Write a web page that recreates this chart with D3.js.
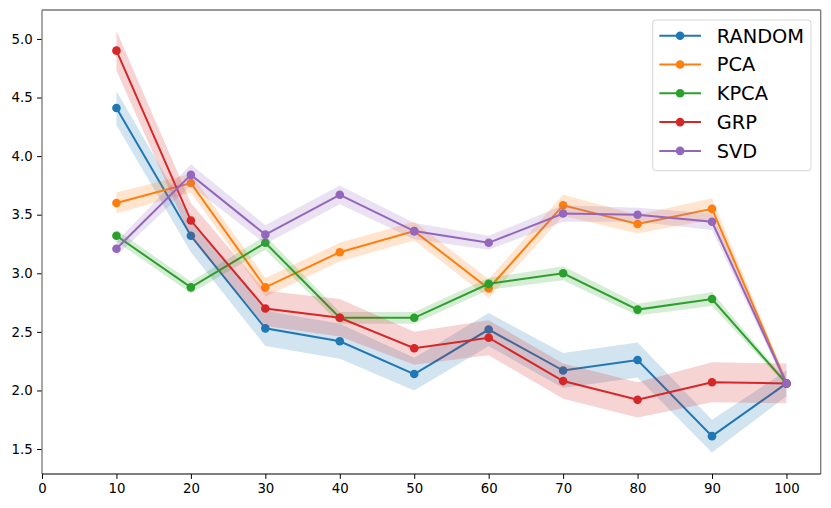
<!DOCTYPE html>
<html>
<head>
<meta charset="utf-8">
<script src="https://cdn.jsdelivr.net/npm/d3@7"></script>
<style>
  body { margin: 0; background: #fff; }
  svg text { font-family: "DejaVu Sans", sans-serif; }
</style>
</head>
<body>
<div id="chart"></div>
<script>
const steps = [10, 20, 30, 40, 50, 60, 70, 80, 90, 100];
const xTicks = [0, 10, 20, 30, 40, 50, 60, 70, 80, 90, 100];
const yTicks = [1.5, 2.0, 2.5, 3.0, 3.5, 4.0, 4.5, 5.0];

const names = ["RANDOM", "PCA", "KPCA", "GRP", "SVD"];
const colors = ["#1f77b4", "#ff7f0e", "#2ca02c", "#d62728", "#9467bd"];

// mean values
const randomMean = [4.41, 3.32, 2.53, 2.42, 2.14, 2.52, 2.17, 2.26, 1.61, 2.06];
const pcaMean    = [3.60, 3.77, 2.88, 3.18, 3.36, 2.87, 3.58, 3.42, 3.55, 2.06];
const kpcaMean   = [3.32, 2.88, 3.26, 2.62, 2.62, 2.91, 3.00, 2.69, 2.78, 2.06];
const grpMean    = [4.90, 3.45, 2.70, 2.62, 2.36, 2.45, 2.08, 1.92, 2.07, 2.06];
const svdMean    = [3.21, 3.84, 3.33, 3.67, 3.36, 3.26, 3.51, 3.50, 3.44, 2.06];

// half width of the shaded band
const randomErr = [0.145, 0.14, 0.15, 0.15, 0.14, 0.14, 0.15, 0.15, 0.14, 0.11];
const pcaErr    = [0.09, 0.08, 0.08, 0.08, 0.08, 0.08, 0.09, 0.08, 0.09, 0.03];
const kpcaErr   = [0.05, 0.05, 0.06, 0.05, 0.05, 0.05, 0.06, 0.05, 0.06, 0.02];
const grpErr    = [0.17, 0.15, 0.15, 0.16, 0.14, 0.15, 0.15, 0.15, 0.17, 0.17];
const svdErr    = [0.06, 0.09, 0.08, 0.08, 0.07, 0.06, 0.07, 0.06, 0.07, 0.03];

const means = [randomMean, pcaMean, kpcaMean, grpMean, svdMean];
const errs = [randomErr, pcaErr, kpcaErr, grpErr, svdErr];

const W = 831, H = 508;
const margin = { top: 10, right: 10.3, bottom: 34, left: 42 };
const width = W - margin.left - margin.right;
const height = H - margin.top - margin.bottom;

const svg = d3.select("#chart").append("svg")
    .attr("width", W)
    .attr("height", H);

const g = svg.append("g")
    .attr("transform", `translate(${margin.left},${margin.top})`);

const x = d3.scaleLinear().domain([0, 104.6]).range([0, width]);
const y = d3.scaleLinear().domain([1.287, 5.247]).range([height, 0]);

// --- series ---
const area = d3.area()
    .x(d => x(d.step))
    .y0(d => y(d.v - d.e))
    .y1(d => y(d.v + d.e));

const line = d3.line()
    .x(d => x(d.step))
    .y(d => y(d.v));

names.forEach((name, i) => {
    const rows = steps.map((s, j) => ({ step: s, v: means[i][j], e: errs[i][j] }));
    const sg = g.append("g").attr("class", "series");

    sg.append("path")
        .datum(rows)
        .attr("d", area)
        .attr("fill", colors[i])
        .attr("fill-opacity", 0.2)
        .attr("stroke", "none");

    sg.append("path")
        .datum(rows)
        .attr("d", line)
        .attr("fill", "none")
        .attr("stroke", colors[i])
        .attr("stroke-width", 2);

    sg.selectAll("circle")
        .data(rows)
        .enter().append("circle")
        .attr("cx", d => x(d.step))
        .attr("cy", d => y(d.v))
        .attr("r", 4.3)
        .attr("fill", colors[i]);
});

// --- axes ---
const xAxis = g.append("g")
    .attr("transform", `translate(0,${height})`)
    .call(d3.axisBottom(x).tickValues(xTicks).tickFormat(d3.format("d")).tickSizeOuter(0).tickSize(4.9).tickPadding(4.5));

const yAxis = g.append("g")
    .call(d3.axisLeft(y).tickValues(yTicks).tickFormat(d3.format(".1f")).tickSizeOuter(0).tickSize(4.9).tickPadding(4.5));

[xAxis, yAxis].forEach(a => {
    a.select(".domain").remove();
    a.selectAll(".tick line").attr("stroke", "#000").attr("stroke-width", 1);
    a.selectAll(".tick text")
        .attr("fill", "#000")
        .style("font-size", "13.3px")
        .style("font-family", "DejaVu Sans");
});

// frame
g.append("line").attr("x1", 0).attr("x2", 0).attr("y1", 0).attr("y2", height)
    .attr("stroke", "#777").attr("stroke-width", 1.3);
g.append("line").attr("x1", 0).attr("x2", width).attr("y1", 0).attr("y2", 0)
    .attr("stroke", "#777").attr("stroke-width", 1.3);
g.append("line").attr("x1", width).attr("x2", width).attr("y1", 0).attr("y2", height)
    .attr("stroke", "#777").attr("stroke-width", 1.3);
g.append("line").attr("x1", 0).attr("x2", width).attr("y1", height).attr("y2", height)
    .attr("stroke", "#000").attr("stroke-width", 1.1);

// --- legend ---
const legend = svg.append("g").attr("transform", "translate(652.7,20)");
legend.append("rect")
    .attr("width", 158.3)
    .attr("height", 150.7)
    .attr("rx", 3)
    .attr("fill", "#fff")
    .attr("fill-opacity", 0.8)
    .attr("stroke", "#d6d6d6")
    .attr("stroke-width", 1);

names.forEach((name, i) => {
    const row = legend.append("g").attr("transform", `translate(0,${15.7 + i * 28.8})`);
    row.append("line")
        .attr("x1", 6.6).attr("x2", 48.3)
        .attr("stroke", colors[i])
        .attr("stroke-width", 2);
    row.append("circle")
        .attr("cx", 27.4)
        .attr("r", 4.3)
        .attr("fill", colors[i]);
    row.append("text")
        .attr("x", 64)
        .attr("dy", "0.36em")
        .style("font-size", "19.4px")
        .attr("fill", "#000")
        .text(name);
});
</script>
</body>
</html>
